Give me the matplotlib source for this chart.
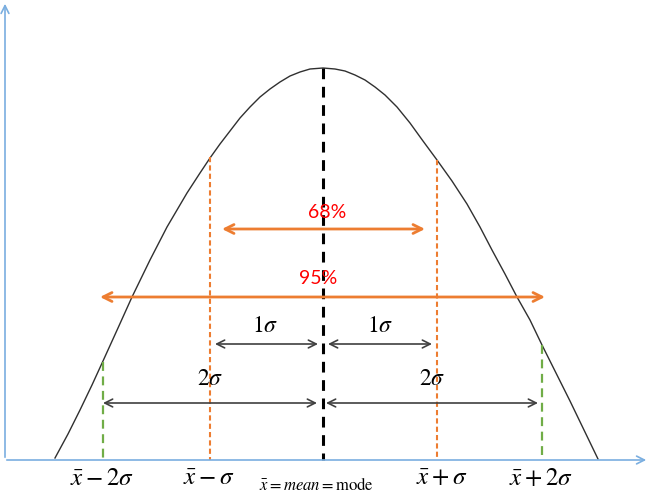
import matplotlib
matplotlib.use("Agg")
import matplotlib.pyplot as plt

plt.rcParams['mathtext.fontset'] = 'stix'

# curve (pixel coordinates, y down)
curve_x = [55, 68, 80, 92, 103, 118, 132, 150, 167, 187, 200, 210, 220, 230, 240, 250, 260,
           270, 280, 290, 300, 310, 323, 335, 345, 355, 365, 375, 385, 397, 410, 423, 437,
           452, 467, 480, 492, 505, 517, 530, 542, 556, 570, 584, 598]
curve_y = [458, 434, 410, 385, 361, 328, 297, 260, 227, 193, 173, 158, 144, 131, 118, 107, 97,
           89, 82, 76, 72, 69, 68, 69, 71, 75, 80, 87, 95, 107, 123, 141, 160,
           181, 204, 227, 250, 274, 297, 320, 345, 373, 401, 430, 459]

# vertical marker lines
vline_x = [103, 210, 323, 437, 542]
vline_top = [362, 157, 68, 160, 345]
vline_col = ['#70ad47', '#ed7d31', 'black', '#ed7d31', '#70ad47']

# double arrows: (x0, x1, y)
pct_arrows = [(222, 425, 229), (100, 545, 297)]
pct_labels = ['68%', '95%']
pct_label_pos = [(327, 212), (318, 278)]

sig_arrows = [(215, 318, 344), (328, 432, 344), (103, 317, 403), (326, 538, 403)]
sig_labels = [r'$1\sigma$', r'$1\sigma$', r'$2\sigma$', r'$2\sigma$']
sig_label_pos = [(265, 325), (380, 325), (210, 378), (432, 378)]

tick_labels = [r'$\bar{x}-2\sigma$', r'$\bar{x}-\sigma$', r'$\bar{x}+\sigma$', r'$\bar{x}+2\sigma$']
tick_pos = [102, 209, 442, 541]
mean_label = r'$\bar{x} = \mathit{mean} = \mathrm{mode}$'

fig = plt.figure(figsize=(6.5, 4.97), dpi=100)
ax = fig.add_axes([0, 0, 1, 1])
ax.set_xlim(0, 650)
ax.set_ylim(497, 0)
ax.axis('off')

axis_col = '#7aaee0'
ax.annotate('', xy=(5, 1), xytext=(5, 460),
            arrowprops=dict(arrowstyle='->', color=axis_col, lw=1.2, mutation_scale=14))
ax.annotate('', xy=(649, 460), xytext=(4, 460),
            arrowprops=dict(arrowstyle='->', color=axis_col, lw=1.2, mutation_scale=14))

ax.plot(curve_x, curve_y, color='#303030', lw=1.0, solid_joinstyle='round')

for x, top, c in zip(vline_x, vline_top, vline_col):
    if c == 'black':
        ax.plot([x, x], [top, 460], color=c, lw=2.2, dashes=(3.5, 2.5))
    elif c == '#ed7d31':
        ax.plot([x, x], [top, 460], color=c, lw=1.5, dashes=(2.5, 1.5))
    else:
        ax.plot([x, x], [top, 460], color=c, lw=1.6, dashes=(4, 2.5))

for (x0, x1, y) in pct_arrows:
    ax.annotate('', xy=(x1, y), xytext=(x0, y),
                arrowprops=dict(arrowstyle='<->', color='#ed7d31', lw=2.0,
                                mutation_scale=16, shrinkA=0, shrinkB=0))
for s, (x, y) in zip(pct_labels, pct_label_pos):
    ax.text(x, y, s, color='#ff0000', fontsize=14, family='Lato',
            ha='center', va='center')

for (x0, x1, y) in sig_arrows:
    ax.annotate('', xy=(x1, y), xytext=(x0, y),
                arrowprops=dict(arrowstyle='<->', color='#404040', lw=1.2,
                                mutation_scale=14, shrinkA=0, shrinkB=0))
for s, (x, y) in zip(sig_labels, sig_label_pos):
    ax.text(x, y, s, fontsize=17, ha='center', va='center', color='black')

for s, x in zip(tick_labels, tick_pos):
    ax.text(x, 478, s, fontsize=18, ha='center', va='center', color='black')
ax.text(316, 485, mean_label, fontsize=12, ha='center', va='center', color='black')

fig.savefig('out.png', dpi=100)
